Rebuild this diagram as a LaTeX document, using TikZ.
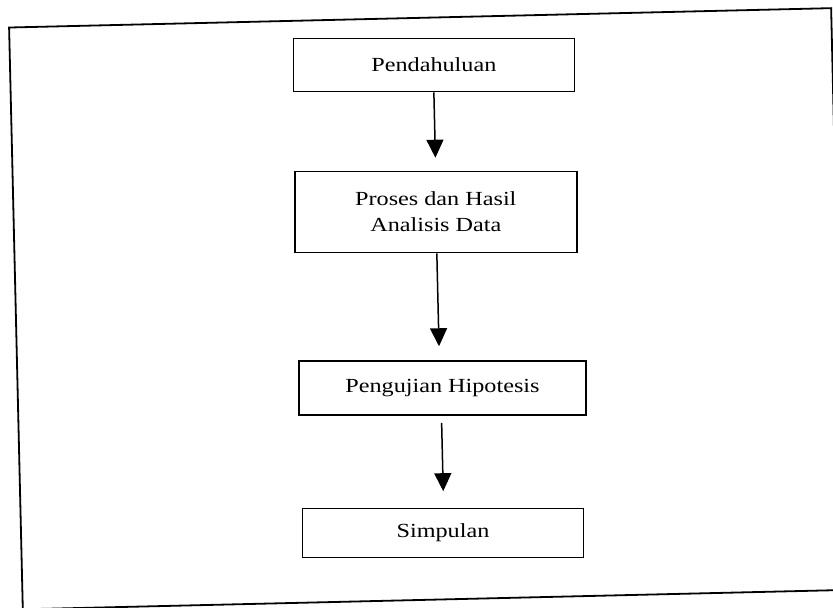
\documentclass[tikz,border=0pt]{standalone}
\usepackage{fontspec}
\setmainfont{Liberation Serif}[FakeStretch=1.21]
\usetikzlibrary{arrows.meta}

\tikzset{
  stepbox/.style={draw=black, line width=1.6pt, inner sep=0pt, align=center,
    font=\fontsize{20}{26}\selectfont},
  flow/.style={draw=black, line width=1.5pt,
    -{Triangle[width=17pt,length=18pt]}},
  frameline/.style={draw=black, line width=1.8pt},
}

\begin{document}
\begin{tikzpicture}[x=1pt, y=-1pt]
  \useasboundingbox (0,0) rectangle (833,608);
  \clip (0,0) rectangle (833,608);

  % the whole sheet sits slightly tilted
  \begin{scope}[rotate around={1.35:(416,304)}]
    % outer frame
    \draw[frameline] (15.7,18) rectangle (838,600);

    % process steps
    \node[stepbox, minimum width=281pt, minimum height=53pt]
      (intro) at (439.5,65.5) {Pendahuluan};
    \node[stepbox, minimum width=282pt, minimum height=81pt]
      (analysis) at (438,212.5) {Proses dan Hasil\\Analisis Data};
    \node[stepbox, minimum width=287pt, minimum height=54pt]
      (test) at (440.5,388.6) {Pengujian Hipotesis};
    \node[stepbox, minimum width=281pt, minimum height=49pt]
      (conclusion) at (437.6,533.6) {Simpulan};

    % connectors
    \draw[flow, shorten >=13pt] (intro.south) -- (intro.south |- analysis.north);
    \draw[flow, shorten >=14pt] ([xshift=1pt]analysis.south) -- ([xshift=1pt]analysis.south |- test.north);
    \draw[flow, shorten <=7pt, shorten >=16.5pt] ([xshift=-1pt]test.south) -- ([xshift=-1pt]test.south |- conclusion.north);
  \end{scope}
\end{tikzpicture}
\end{document}
